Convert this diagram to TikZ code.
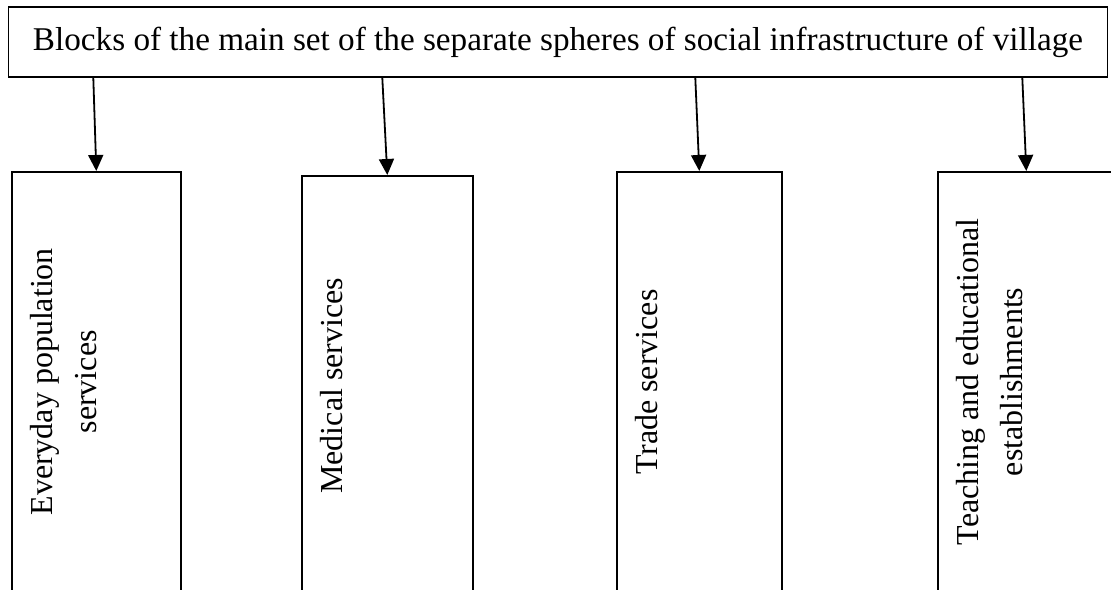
\documentclass[tikz,border=0pt]{standalone}
\usepackage{fontspec}
\setmainfont{Liberation Serif}
\usetikzlibrary{arrows.meta}
\tikzstyle{head} = [rectangle, 
draw=black, 
line width=1.6pt,
minimum width=1099pt, 
minimum height=70pt,
text centered,
font=\fontsize{33.2}{38}\selectfont]
\tikzstyle{block} = [rectangle, 
draw=black, 
line width=1.6pt,
minimum height=420pt,
anchor=north west]
\tikzstyle{vtext} = [rotate=90, 
anchor=north, 
align=center, 
inner sep=0pt,
font=\fontsize{32}{44}\selectfont]
\tikzstyle{arrow} = [line width=1.8pt,-{Triangle[length=16pt,width=15pt]}]

\begin{document}
\begin{tikzpicture}[x=1pt,y=1pt]
\useasboundingbox (0,0) rectangle (1111,-589);
\clip (0,0) rectangle (1111,-589);

\node (top) [head] at (558,-42) {Blocks of the main set of the separate spheres of social infrastructure of village};

\node (b1) [block, minimum width=169pt] at (11,-171) {};
\node (b2) [block, minimum width=171pt] at (301,-175) {};
\node (b3) [block, minimum width=165pt] at (616,-171) {};
\node (b4) [block, minimum width=177pt] at (937,-171) {};

\node (t1) [vtext] at ([xshift=19pt]b1.west) {Everyday population\\services};
\node (t2) [vtext] at ([xshift=19pt]b2.west) {Medical services};
\node (t3) [vtext] at ([xshift=19pt]b3.west) {Trade services};
\node (t4) [vtext] at ([xshift=19pt]b4.west) {Teaching and educational\\establishments};

\draw [arrow] ([xshift=-3pt]top.south -| b1.north) -- (b1.north);
\draw [arrow] ([xshift=-5pt]top.south -| b2.north) -- (b2.north);
\draw [arrow] ([xshift=-4pt]top.south -| b3.north) -- (b3.north);
\draw [arrow] ([xshift=-4pt]top.south -| b4.north) -- (b4.north);

\end{tikzpicture}
\end{document}
